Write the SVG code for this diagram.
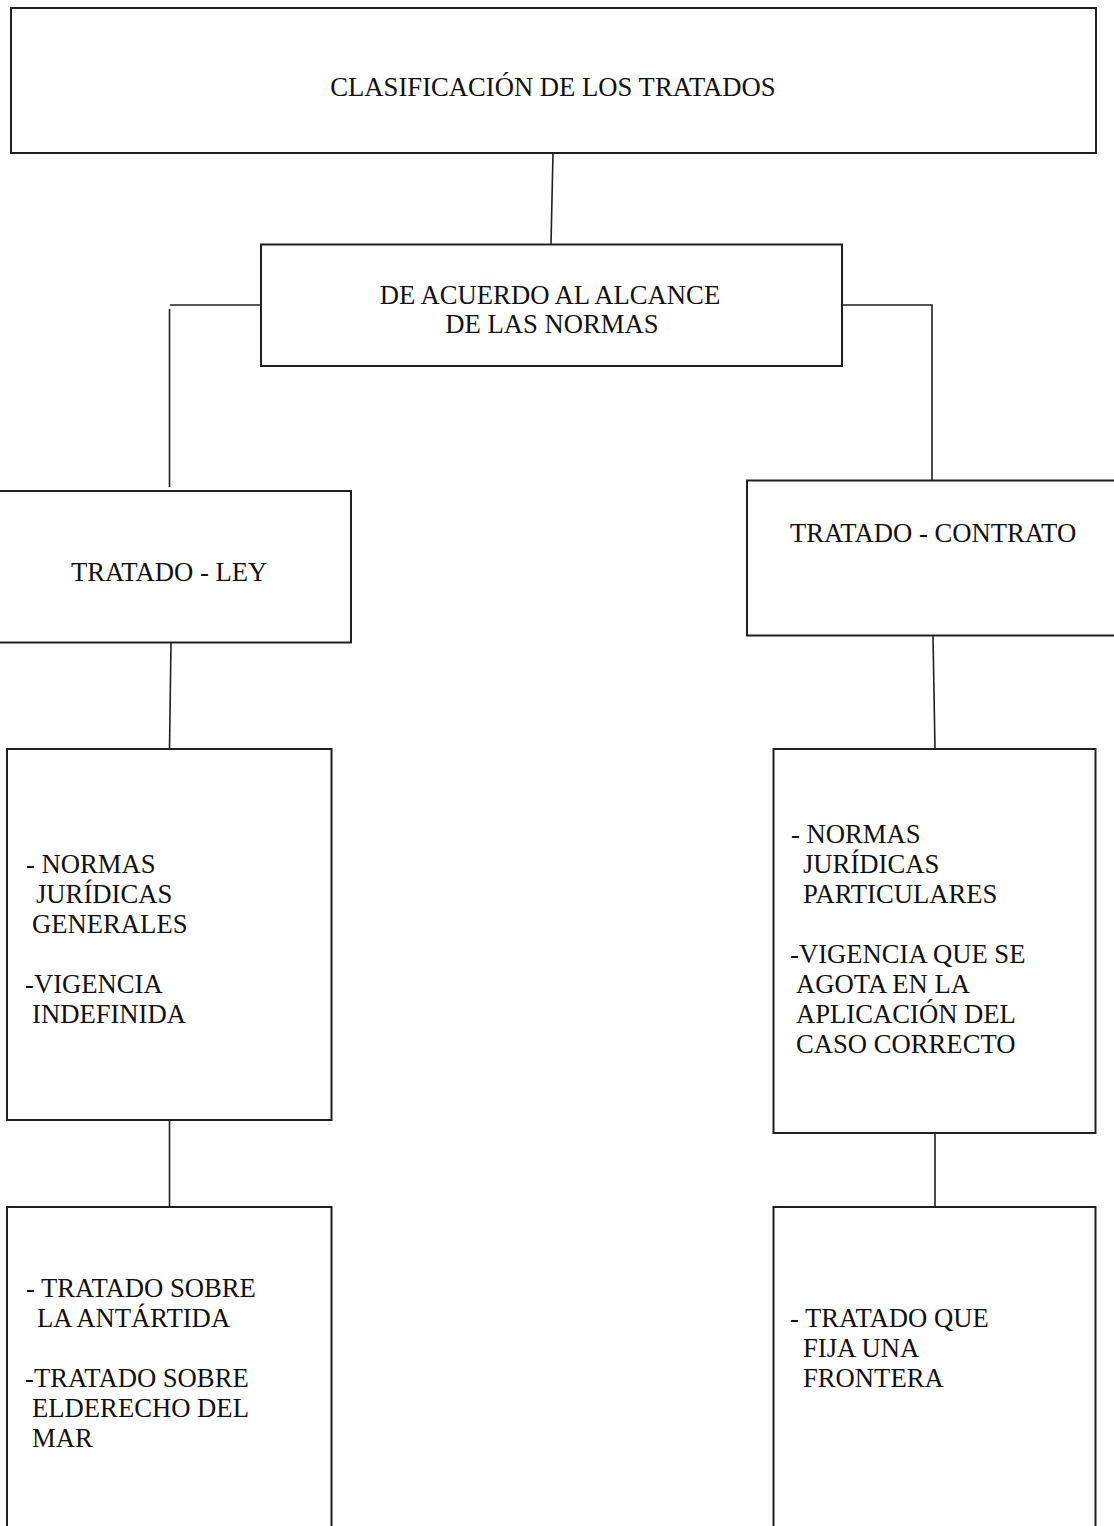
<svg xmlns="http://www.w3.org/2000/svg" width="1114" height="1526" viewBox="0 0 1114 1526">
<style>
.box{fill:#fff;stroke:#231f20;stroke-width:2}
.con{fill:none;stroke:#231f20;stroke-width:1.6}
text{font-family:"Liberation Serif","Times New Roman",serif;font-size:26.67px;fill:#111}
.c{text-anchor:middle}
</style>
<rect width="1114" height="1526" fill="#fff"/>
<g id="connectors">
<line class="con" x1="553" y1="153" x2="551" y2="244"/>
<polyline class="con" points="261,305 170,305"/>
<line class="con" x1="169.5" y1="309" x2="169.5" y2="487"/>
<polyline class="con" points="842,305 932,305 932,480"/>
<line class="con" x1="171" y1="643" x2="169.5" y2="749"/>
<line class="con" x1="933" y1="636" x2="935" y2="749"/>
<line class="con" x1="169.5" y1="1121" x2="169.5" y2="1207"/>
<line class="con" x1="935" y1="1133" x2="935" y2="1207"/>
</g>
<g id="n-clasificacion">
<rect class="box" x="11" y="8" width="1085" height="145"/>
<text class="c" x="553" y="96">CLASIFICACIÓN DE LOS TRATADOS</text>
</g>
<g id="n-alcance">
<rect class="box" x="261" y="244.5" width="581" height="121.5"/>
<text class="c" x="550" y="304">DE ACUERDO AL ALCANCE</text>
<text class="c" x="552" y="333">DE LAS NORMAS</text>
</g>
<g id="n-tratado-ley">
<rect class="box" x="-3" y="491" width="354" height="151.5"/>
<text x="71" y="581">TRATADO - LEY</text>
</g>
<g id="n-tratado-contrato">
<rect class="box" x="747" y="480.5" width="370" height="155"/>
<text x="790" y="542">TRATADO - CONTRATO</text>
</g>
<g id="n-ley-caracteristicas">
<rect class="box" x="7" y="749" width="324.5" height="371"/>
<text x="26" y="873">- NORMAS</text>
<text x="36" y="903">JURÍDICAS</text>
<text x="32" y="933">GENERALES</text>
<text x="25" y="993">-VIGENCIA</text>
<text x="32" y="1023">INDEFINIDA</text>
</g>
<g id="n-contrato-caracteristicas">
<rect class="box" x="773.5" y="749" width="322" height="384"/>
<text x="791" y="843">- NORMAS</text>
<text x="803" y="873">JURÍDICAS</text>
<text x="803" y="903">PARTICULARES</text>
<text x="790" y="963">-VIGENCIA QUE SE</text>
<text x="796" y="993">AGOTA EN LA</text>
<text x="796" y="1023">APLICACIÓN DEL</text>
<text x="796" y="1053">CASO CORRECTO</text>
</g>
<g id="n-ley-ejemplos">
<rect class="box" x="7" y="1207" width="324.5" height="340"/>
<text x="26" y="1297">- TRATADO SOBRE</text>
<text x="37" y="1327">LA ANTÁRTIDA</text>
<text x="25" y="1387">-TRATADO SOBRE</text>
<text x="32" y="1417">ELDERECHO DEL</text>
<text x="32" y="1447">MAR</text>
</g>
<g id="n-contrato-ejemplos">
<rect class="box" x="773.5" y="1207" width="322" height="340"/>
<text x="790" y="1327">- TRATADO QUE</text>
<text x="803" y="1357">FIJA UNA</text>
<text x="803" y="1387">FRONTERA</text>
</g>
</svg>
